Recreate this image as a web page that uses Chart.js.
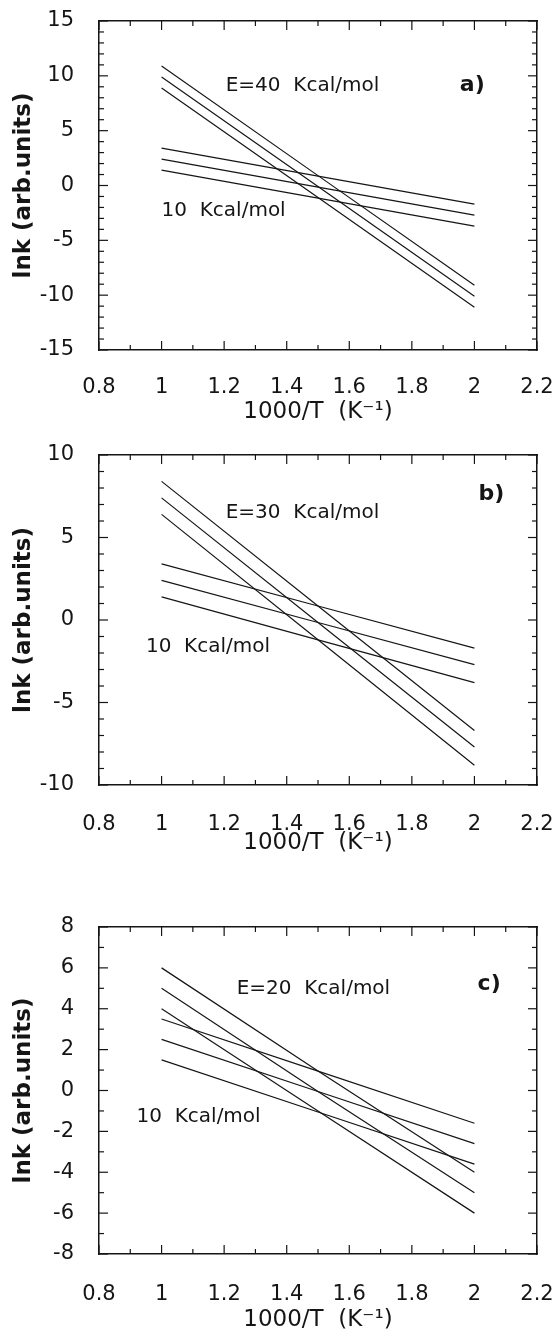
<!DOCTYPE html>
<html><head><meta charset="utf-8">
<script src="https://cdn.jsdelivr.net/npm/chart.js@4.4.1/dist/chart.umd.min.js"></script>
<style>
html,body{margin:0;padding:0;background:#fff;}
body{width:553px;height:1337px;position:relative;overflow:hidden;}
.panel{position:absolute;left:0;width:553px;}
</style></head><body>
<div class="panel" style="top:0;height:430px"><canvas id="ca"></canvas></div>
<div class="panel" style="top:430px;height:440px"><canvas id="cb"></canvas></div>
<div class="panel" style="top:880px;height:457px"><canvas id="cc"></canvas></div>
<script>
// ---- data ----
const xPoints = [1.0, 1.5, 2.0];
const xTicks = [0.8, 1.0, 1.2, 1.4, 1.6, 1.8, 2.0, 2.2];

// panel a: E = 40 and 10 Kcal/mol
const aE40 = [[10.9, 0.9, -9.1], [9.9, -0.1, -10.1], [8.9, -1.1, -11.1]];
const aE10 = [[3.4, 0.85, -1.7], [2.4, -0.15, -2.7], [1.4, -1.15, -3.7]];
const aYTicks = [-15, -10, -5, 0, 5, 10, 15];

// panel b: E = 30 and 10 Kcal/mol
const bE30 = [[8.4, 0.85, -6.7], [7.4, -0.15, -7.7], [6.4, -1.2, -8.8]];
const bE10 = [[3.4, 0.85, -1.7], [2.4, -0.15, -2.7], [1.4, -1.2, -3.8]];
const bYTicks = [-10, -5, 0, 5, 10];

// panel c: E = 20 and 10 Kcal/mol
const cE20 = [[6.0, 0.95, -4.0], [5.0, -0.05, -5.0], [4.0, -1.0, -6.0]];
const cE10 = [[3.5, 0.95, -1.6], [2.5, -0.05, -2.6], [1.5, -1.05, -3.6]];
const cYTicks = [-8, -6, -4, -2, 0, 2, 4, 6, 8];

// annotation texts with anchor in data units
const aNotes = [["E=40  Kcal/mol", 1.205, 9.1], ["10  Kcal/mol", 1.0, -2.3], ["a)", 1.993, 9.1]];
const bNotes = [["E=30  Kcal/mol", 1.205, 6.5], ["10  Kcal/mol", 0.95, -1.65], ["b)", 2.054, 7.6]];
const cNotes = [["E=20  Kcal/mol", 1.24, 5.0], ["10  Kcal/mol", 0.92, -1.3], ["c)", 2.047, 5.2]];

// ---- rendering ----
Chart.defaults.font.family = "'DejaVu Sans', sans-serif";
Chart.defaults.color = '#111';
const INK = '#151515';

const innerTicks = {
  id: 'innerTicks',
  afterDraw(chart, args, o) {
    const {ctx, chartArea: {left, right, top, bottom}, scales: {x, y}} = chart;
    ctx.save();
    ctx.strokeStyle = INK; ctx.lineWidth = 1.2;
    const line = (x1, y1, x2, y2) => { ctx.beginPath(); ctx.moveTo(x1, y1); ctx.lineTo(x2, y2); ctx.stroke(); };
    for (let v = Math.round(x.min * 10); v <= Math.round(x.max * 10); v++) {
      const px = x.getPixelForValue(v / 10);
      const L = (v % 2 === 0) ? 9 : 5;
      line(px, bottom, px, bottom - L);
      line(px, top, px, top + L);
    }
    for (let v = y.min; v <= y.max; v++) {
      const py = y.getPixelForValue(v);
      const L = (v % o.yMajor === 0) ? 9 : 5;
      line(left, py, left + L, py);
      line(right, py, right - L, py);
    }
    ctx.restore();
  }
};

const notesPlugin = {
  id: 'notes',
  afterDatasetsDraw(chart, args, o) {
    const {ctx, scales: {x, y}} = chart;
    ctx.save();
    ctx.fillStyle = INK;
    ctx.textBaseline = 'middle';
    o.items.forEach(([t, vx, vy]) => {
      const isTag = t.endsWith(')') && t.length === 2;
      ctx.font = isTag ? "bold 22px 'DejaVu Sans'" : "20px 'DejaVu Sans'";
      ctx.textAlign = isTag ? 'center' : 'left';
      ctx.fillText(t, x.getPixelForValue(vx), y.getPixelForValue(vy));
    });
    ctx.restore();
  }
};

function zeroPad(s) { s.paddingTop = 0; s.paddingBottom = 0; s.paddingLeft = 0; s.paddingRight = 0; }

function makePanel(id, g, series, yMin, yMax, yTicks, yMajor, notes) {
  const datasets = series.map(s => ({
    data: xPoints.map((xv, i) => ({x: xv, y: s[i]})),
    borderColor: INK, borderWidth: 1.2, pointRadius: 0, tension: 0, fill: false
  }));
  const border = {display: true, color: INK, width: 1.5};
  const grid = {display: false, drawTicks: false, tickLength: 0};
  new Chart(document.getElementById(id), {
    type: 'line',
    data: {datasets},
    options: {
      animation: false, responsive: true, maintainAspectRatio: false,
      layout: {padding: 0},
      plugins: {legend: {display: false}, tooltip: {enabled: false},
        innerTicks: {yMajor}, notes: {items: notes}},
      scales: {
        x: {type: 'linear', position: 'bottom', min: 0.8, max: 2.2,
          afterBuildTicks: s => { s.ticks = xTicks.map(v => ({value: v})); },
          afterFit: s => { s.height = g.bottomH; zeroPad(s); },
          grid, border,
          ticks: {autoSkip: false, maxRotation: 0, padding: g.xPad, font: {size: 21}, color: INK,
            callback: v => String(Number(v.toFixed(1)))},
          title: {display: true, text: '1000/T  (K\u207B\u00B9)', font: {size: 23}, color: INK,
            padding: {top: 0, bottom: g.titlePad}}},
        x2: {type: 'linear', position: 'top', min: 0.8, max: 2.2,
          afterFit: s => { s.height = g.topH; zeroPad(s); },
          grid, border, ticks: {display: false}},
        y: {type: 'linear', position: 'left', min: yMin, max: yMax,
          afterBuildTicks: s => { s.ticks = yTicks.map(v => ({value: v})); },
          afterFit: s => { s.width = g.leftW; zeroPad(s); },
          grid, border,
          ticks: {padding: 25, font: {size: 21}, color: INK},
          title: {display: true, text: 'lnk (arb.units)', font: {size: 23, weight: 'bold'}, color: INK,
            padding: {top: 10.2, bottom: 0}}},
        y2: {type: 'linear', position: 'right', min: yMin, max: yMax,
          afterFit: s => { s.width = g.rightW; zeroPad(s); },
          grid, border, ticks: {display: false}}
      }
    },
    plugins: [innerTicks, notesPlugin]
  });
}

makePanel('ca', {topH: 21, bottomH: 80, leftW: 99, rightW: 16, xPad: 25, titlePad: 4.2},
  [...aE40, ...aE10], -15, 15, aYTicks, 5, aNotes);
makePanel('cb', {topH: 25, bottomH: 85, leftW: 99, rightW: 16, xPad: 27, titlePad: 13.2},
  [...bE30, ...bE10], -10, 10, bYTicks, 5, bNotes);
makePanel('cc', {topH: 47, bottomH: 83, leftW: 99, rightW: 16, xPad: 28, titlePad: 3.2},
  [...cE20, ...cE10], -8, 8, cYTicks, 2, cNotes);
</script>
</body></html>
